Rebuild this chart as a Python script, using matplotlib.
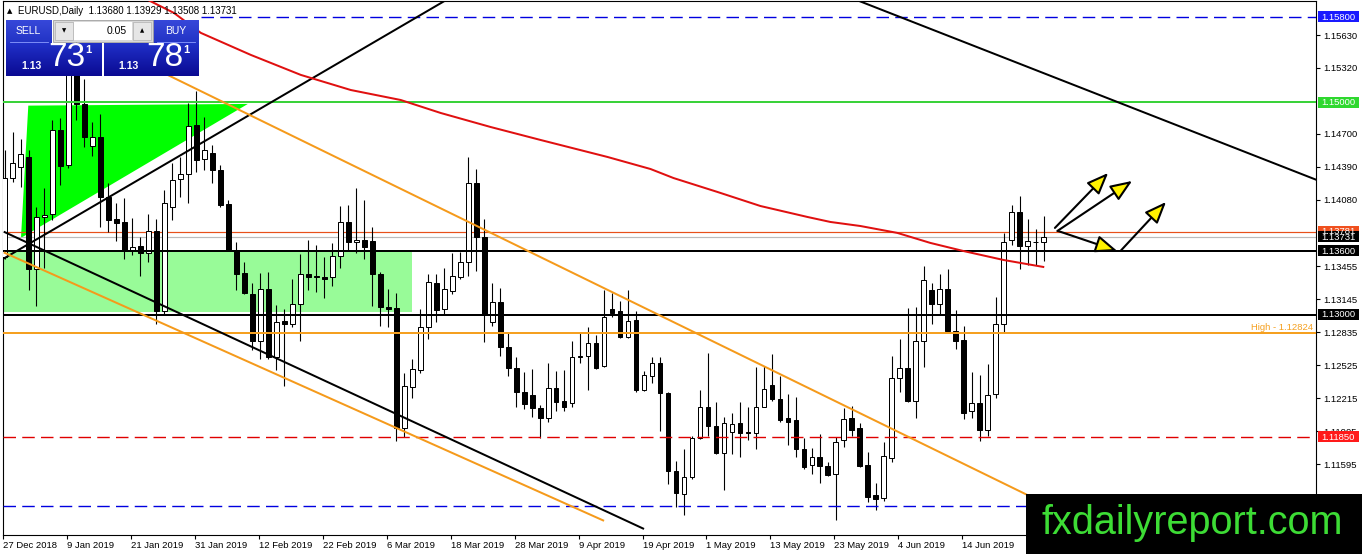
import numpy as np
import matplotlib
matplotlib.use("Agg")
import matplotlib.pyplot as plt
from matplotlib.patches import Rectangle, Polygon
from matplotlib.colors import LinearSegmentedColormap

plt.rcParams['font.family'] = ['Liberation Sans', 'DejaVu Sans']

# ---------------- data ----------------
header_text = "EURUSD,Daily  1.13680 1.13929 1.13508 1.13731"

date_labels = ["27 Dec 2018", "9 Jan 2019", "21 Jan 2019", "31 Jan 2019", "12 Feb 2019",
               "22 Feb 2019", "6 Mar 2019", "18 Mar 2019", "28 Mar 2019", "9 Apr 2019",
               "19 Apr 2019", "1 May 2019", "13 May 2019", "23 May 2019", "4 Jun 2019",
               "14 Jun 2019"]
date_label_bars = [0, 8, 16, 24, 32, 40, 48, 56, 64, 72, 80, 88, 96, 104, 112, 120]

opens = [1.1354, 1.1429, 1.1439, 1.1448, 1.1343, 1.1392, 1.1395, 1.1474, 1.1441, 1.1540,
         1.1498, 1.1459, 1.1467, 1.1411, 1.1390, 1.1387, 1.1361, 1.1365, 1.1358, 1.1379,
         1.1303, 1.1401, 1.1428, 1.1432, 1.1478, 1.1446, 1.1452, 1.1436, 1.1404, 1.1361,
         1.1339, 1.1319, 1.1275, 1.1324, 1.1260, 1.1294, 1.1291, 1.1310, 1.1338, 1.1336,
         1.1335, 1.1335, 1.1355, 1.1387, 1.1368, 1.1370, 1.1369, 1.1338, 1.1307, 1.1306,
         1.1193, 1.1232, 1.1248, 1.1288, 1.1330, 1.1305, 1.1322, 1.1335, 1.1350, 1.1424,
         1.1373, 1.1293, 1.1312, 1.1270, 1.1250, 1.1227, 1.1224, 1.1212, 1.1203, 1.1231,
         1.1219, 1.1217, 1.1260, 1.1261, 1.1273, 1.1252, 1.1305, 1.1303, 1.1279, 1.1295,
         1.1229, 1.1242, 1.1255, 1.1226, 1.1153, 1.1131, 1.1147, 1.1184, 1.1213, 1.1195,
         1.1170, 1.1190, 1.1198, 1.1190, 1.1189, 1.1213, 1.1234, 1.1221, 1.1203, 1.1201,
         1.1174, 1.1159, 1.1166, 1.1158, 1.1150, 1.1182, 1.1203, 1.1193, 1.1159, 1.1130,
         1.1128, 1.1165, 1.1240, 1.1250, 1.1219, 1.1275, 1.1323, 1.1310, 1.1324, 1.1285,
         1.1276, 1.1209, 1.1217, 1.1192, 1.1225, 1.1291, 1.1370, 1.1397, 1.1365, 1.1368,
         1.13680]
highs = [1.1455, 1.1472, 1.1465, 1.1455, 1.1401, 1.1419, 1.1483, 1.1485, 1.1548, 1.1570,
         1.1522, 1.1481, 1.1489, 1.1424, 1.1405, 1.1410, 1.1391, 1.1373, 1.1395, 1.1390,
         1.1417, 1.1443, 1.1448, 1.1499, 1.1510, 1.1486, 1.1460, 1.1441, 1.1408, 1.1368,
         1.1350, 1.1330, 1.1339, 1.1340, 1.1309, 1.1305, 1.1334, 1.1357, 1.1370, 1.1366,
         1.1354, 1.1367, 1.1402, 1.1403, 1.1419, 1.1408, 1.1382, 1.1340, 1.1324, 1.1320,
         1.1245, 1.1258, 1.1305, 1.1338, 1.1338, 1.1344, 1.1358, 1.1359, 1.1448, 1.1437,
         1.1390, 1.1330, 1.1325, 1.1284, 1.1260, 1.1246, 1.1249, 1.1215, 1.1255, 1.1247,
         1.1248, 1.1275, 1.1283, 1.1288, 1.1281, 1.1323, 1.1320, 1.1313, 1.1323, 1.1303,
         1.1247, 1.1260, 1.1260, 1.1227, 1.1162, 1.1174, 1.1186, 1.1229, 1.1264, 1.1218,
         1.1204, 1.1208, 1.1218, 1.1213, 1.1251, 1.1252, 1.1263, 1.1242, 1.1225, 1.1223,
         1.1184, 1.1175, 1.1188, 1.1161, 1.1185, 1.1212, 1.1214, 1.1198, 1.1171, 1.1142,
         1.1180, 1.1261, 1.1277, 1.1306, 1.1307, 1.1346, 1.1330, 1.1338, 1.1343, 1.1304,
         1.1289, 1.1246, 1.1243, 1.1254, 1.1317, 1.1377, 1.1403, 1.1412, 1.1390, 1.1381,
         1.13929]
lows = [1.1352, 1.1425, 1.1420, 1.1323, 1.1308, 1.1344, 1.1389, 1.1422, 1.1438, 1.1483,
        1.1458, 1.1449, 1.1382, 1.1378, 1.1369, 1.1352, 1.1356, 1.1336, 1.1350, 1.1291,
        1.1301, 1.1389, 1.1411, 1.1405, 1.1434, 1.1436, 1.1424, 1.1401, 1.1360, 1.1323,
        1.1319, 1.1267, 1.1258, 1.1258, 1.1248, 1.1233, 1.1288, 1.1275, 1.1323, 1.1321,
        1.1316, 1.1327, 1.1344, 1.1361, 1.1358, 1.1352, 1.1308, 1.1289, 1.1288, 1.1181,
        1.1185, 1.1222, 1.1245, 1.1277, 1.1293, 1.1301, 1.1319, 1.1334, 1.1336, 1.1341,
        1.1274, 1.1289, 1.1261, 1.1242, 1.1213, 1.1211, 1.1204, 1.1184, 1.1199, 1.1209,
        1.1209, 1.1213, 1.1255, 1.1229, 1.1249, 1.1251, 1.1298, 1.1278, 1.1278, 1.1227,
        1.1228, 1.1236, 1.1191, 1.1141, 1.1119, 1.1112, 1.1145, 1.1183, 1.1186, 1.1169,
        1.1135, 1.1169, 1.1166, 1.1182, 1.1174, 1.1213, 1.1219, 1.1199, 1.1177, 1.1166,
        1.1155, 1.1150, 1.1142, 1.1148, 1.1107, 1.1176, 1.1186, 1.1157, 1.1124, 1.1116,
        1.1125, 1.1161, 1.1227, 1.1218, 1.1203, 1.1251, 1.1291, 1.1301, 1.1284, 1.1268,
        1.1202, 1.1203, 1.1181, 1.1186, 1.1222, 1.1284, 1.1366, 1.1343, 1.1347, 1.1347,
        1.13508]
closes = [1.1429, 1.1443, 1.1451, 1.1343, 1.1392, 1.1394, 1.1474, 1.1440, 1.1540, 1.1498,
          1.1467, 1.1467, 1.1411, 1.1389, 1.1386, 1.1360, 1.1364, 1.1358, 1.1379, 1.1303,
          1.1405, 1.1427, 1.1432, 1.1477, 1.1445, 1.1455, 1.1436, 1.1403, 1.1361, 1.1338,
          1.1320, 1.1275, 1.1324, 1.1260, 1.1293, 1.1291, 1.1310, 1.1338, 1.1335, 1.1335,
          1.1334, 1.1355, 1.1387, 1.1368, 1.1370, 1.1364, 1.1338, 1.1307, 1.1305, 1.1193,
          1.1233, 1.1249, 1.1288, 1.1331, 1.1304, 1.1324, 1.1336, 1.1350, 1.1424, 1.1373,
          1.1301, 1.1312, 1.1270, 1.1250, 1.1227, 1.1216, 1.1212, 1.1203, 1.1231, 1.1218,
          1.1213, 1.1260, 1.1261, 1.1273, 1.1250, 1.1298, 1.1302, 1.1279, 1.1294, 1.1229,
          1.1243, 1.1255, 1.1226, 1.1153, 1.1132, 1.1147, 1.1184, 1.1213, 1.1195, 1.1170,
          1.1198, 1.1197, 1.1189, 1.1189, 1.1213, 1.1230, 1.1221, 1.1201, 1.1199, 1.1174,
          1.1157, 1.1166, 1.1158, 1.1149, 1.1180, 1.1202, 1.1192, 1.1158, 1.1129, 1.1127,
          1.1167, 1.1240, 1.1250, 1.1219, 1.1275, 1.1333, 1.1310, 1.1324, 1.1285, 1.1275,
          1.1208, 1.1217, 1.1192, 1.1224, 1.1291, 1.1368, 1.1397, 1.1365, 1.1369, 1.1368,
          1.13731]

# moving average
ma_bars = [17.94, 21.19, 24.56, 30.81, 37.06, 43.31, 49.56, 54.56, 60.81, 67.06, 75.44,
           80.81, 83.69, 89.19, 94.56, 100.44, 103.31, 107.06, 111.69, 115.81, 119.94,
           124.94, 129.94]
ma_values = [1.15960, 1.15838, 1.15650, 1.15443, 1.15255, 1.15113, 1.15019, 1.14897,
             1.14765, 1.14643, 1.14483, 1.14370, 1.14285, 1.14154, 1.14022, 1.13919,
             1.13872, 1.13834, 1.13769, 1.13675, 1.13599, 1.13515, 1.13449]

# visible price-axis labels (those fully hidden under coloured boxes are omitted)
y_tick_values = [1.15630, 1.15320, 1.14700, 1.14390, 1.14080, 1.13455,
                 1.13145, 1.12835, 1.12525, 1.12215, 1.11905, 1.11595]

blue_top_level = 1.15800
green_level = 1.15000
ask_level = 1.13781
bid_level = 1.13731
black_level_1 = 1.13600
black_level_2 = 1.13000
high_level = 1.12824
red_level = 1.11850
blue_low_level = 1.11200

# drawn objects: anchor points (bar index, price)
black_rising = [(-0.025, 1.13531), (54.56, 1.15929)]
black_falling = [(-0.025, 1.13778), (77.93, 1.11057)]
black_upper = [(154.56, 1.14549), (164.15, 1.14267)]
orange_upper = [(21.19, 1.15226), (127.69, 1.11314)]
orange_lower = [(-0.025, 1.13583), (71.44, 1.11181)]
triangle_pts = [(2.975, 1.14966), (30.44, 1.14982), (2.06, 1.13722)]
zone_bars = (-1.0, 50.94)
zone_prices = (1.13026, 1.13600)
arrows = [((131.4, 1.13816), (138.06, 1.14333)),
          ((131.7, 1.13787), (141.06, 1.14258)),
          ((131.8, 1.13787), (139.2, 1.13599)),
          ((139.6, 1.13599), (145.3, 1.14060))]

# ---------------- figure ----------------
W, H = 1362, 554
fig = plt.figure(figsize=(W / 100, H / 100), dpi=100)
fig.patch.set_facecolor('white')
ax = fig.add_axes([3 / W, (H - 535) / H, 1313 / W, 534 / H])
ax.set_facecolor('white')
XMIN, XMAX = -0.0625, 164.06
ax.set_xlim(XMIN, XMAX)
ax.set_ylim(1.10928, 1.15950)

PX = 0.72  # one pixel in points

# background objects
ax.add_patch(Rectangle((zone_bars[0], zone_prices[0]), zone_bars[1] - zone_bars[0],
                       zone_prices[1] - zone_prices[0], fc='#98FB98', ec='none', zorder=1))
ax.add_patch(Polygon(triangle_pts, closed=True, fc='#00FF00', ec='none', zorder=1))

# bid / ask lines
ax.axhline(ask_level, color='#E8501A', lw=PX * 1.2, zorder=2)
ax.axhline(bid_level, color='#BBBBBB', lw=PX * 1.2, zorder=2)

# candles
o = np.array(opens); h = np.array(highs); l = np.array(lows); c = np.array(closes)
x = np.arange(len(o))
up = c >= o
ax.vlines(x, l, h, color='black', lw=PX * 1.1, zorder=3)
ax.bar(x, np.maximum(np.abs(c - o), 0.00002), bottom=np.minimum(o, c), width=0.6,
       color=np.where(up, 'white', 'black'), edgecolor='black', linewidth=PX, zorder=3.2)

# horizontal levels
dash = (0, (9, 4.5))
ax.hlines(blue_top_level, 24.6, XMAX, color='#0000E0', lw=1.0, linestyles=[dash], zorder=4)
ax.axhline(green_level, color='#3AD23A', lw=2 * PX, zorder=4)
ax.axhline(black_level_1, color='black', lw=2 * PX, zorder=4)
ax.axhline(black_level_2, color='black', lw=2 * PX, zorder=4)
ax.axhline(high_level, color='#F5A020', lw=2 * PX, zorder=4)
ax.axhline(red_level, color='#E00000', lw=1.0, linestyle=dash, zorder=4)
ax.axhline(blue_low_level, color='#0000E0', lw=1.0, linestyle=dash, zorder=4)


def trend(anchors, k0, k1, color):
    (xa, pa), (xb, pb) = anchors
    s = (pb - pa) / (xb - xa)
    ks = np.array([k0, k1])
    ax.plot(ks, pa + s * (ks - xa), color=color, lw=2 * PX, zorder=4,
            solid_capstyle='butt')


trend(black_rising, -0.1, 60, 'black')
trend(black_falling, -0.1, 80, 'black')
trend(black_upper, 100, 166, 'black')
trend(orange_upper, 17, 128, '#F59A1B')
trend(orange_lower, -0.1, 75, '#F59A1B')

# moving average
ax.plot(ma_bars, ma_values, color='#E01010', lw=2 * PX, zorder=4.5)

# arrows
for tail, tip in arrows:
    ax.annotate('', xy=tip, xytext=tail, zorder=5,
                arrowprops=dict(arrowstyle='-|>,head_length=0.95,head_width=0.38',
                                facecolor='#FFF200', edgecolor='black', lw=1.5,
                                mutation_scale=14, shrinkA=0, shrinkB=0))

# axes styling
for sp in ax.spines.values():
    sp.set_color('black'); sp.set_linewidth(0.8)
ax.yaxis.tick_right()
ax.set_yticks(y_tick_values)
ax.set_yticklabels([f"{v:.5f}" for v in y_tick_values], fontsize=6.8)
ax.tick_params(axis='y', direction='out', length=3, width=0.8, pad=2)
ax.set_xticks(np.array(date_label_bars) - 0.19)
ax.set_xticklabels(date_labels, fontsize=6.8)
for lbl in ax.get_xticklabels():
    lbl.set_ha('left')
ax.tick_params(axis='x', direction='out', length=3, width=0.8, pad=1.5)

# ---------------- overlay (pixel coordinates) ----------------
ov = fig.add_axes([0, 0, 1, 1])
ov.patch.set_alpha(0)


def py(p):
    return H - ax.transData.transform((0, p))[1]


price_boxes = [(blue_top_level, '#1A1AFF', 'white'),
               (green_level, '#2ED82E', 'white'),
               (ask_level, '#F0501E', 'white'),
               (bid_level, 'black', 'white'),
               (black_level_1, 'black', 'white'),
               (black_level_2, 'black', 'white'),
               (red_level, '#FF1A1A', 'white')]
for p, bg, fg in price_boxes:
    yy = py(p)
    ov.add_patch(Rectangle((1317.5, yy - 5.5), 41.5, 11, fc=bg, ec='none', zorder=6))
    ov.text(1321.5, yy + 0.3, f"{p:.5f}", color=fg, fontsize=6.8, ha='left', va='center',
            zorder=7)

ov.text(1313, py(high_level) - 1.5, f"High - {high_level:.5f}", color='#F5A020',
        fontsize=6.8, ha='right', va='bottom', zorder=7)

# header
ov.text(10, 11, '\u25B2', fontsize=5, ha='center', va='center', color='black',
        family=['DejaVu Sans'], zorder=8)
ov.text(18, 11, header_text, fontsize=7, ha='left', va='center', color='black', zorder=8)

# one-click trading panel
def grad_box(x0, y0, w, hgt, ctop, cbot):
    cmap = LinearSegmentedColormap.from_list('g', [ctop, cbot])
    ov.imshow(np.linspace(0, 1, 64)[:, None], extent=(x0, x0 + w, y0 + hgt, y0),
              cmap=cmap, aspect='auto', zorder=8, interpolation='bilinear')

grad_box(6, 20, 46, 23, '#3748DA', '#2233C4')
grad_box(153, 20, 46, 23, '#3748DA', '#2233C4')
grad_box(6, 43, 96, 33, '#2030C8', '#0A0A92')
grad_box(104, 43, 95, 33, '#2030C8', '#0A0A92')
ov.add_patch(Rectangle((53, 20), 100, 22, fc='#D8D8D8', ec='#A0A0A0', lw=0.6, zorder=8))
ov.add_patch(Rectangle((74, 22), 58, 18, fc='white', ec='none', zorder=8.5))
ov.add_patch(Rectangle((55, 22), 18, 18, fc='#E6E6E6', ec='#B0B0B0', lw=0.5, zorder=8.5))
ov.add_patch(Rectangle((133, 22), 18, 18, fc='#E6E6E6', ec='#B0B0B0', lw=0.5, zorder=8.5))
ov.text(64, 31, '\u25BC', fontsize=4, ha='center', va='center', family=['DejaVu Sans'],
        zorder=9)
ov.text(142, 31, '\u25B2', fontsize=4, ha='center', va='center', family=['DejaVu Sans'],
        zorder=9)
ov.text(127, 31, '0.05', fontsize=7.5, ha='right', va='center', color='black', zorder=9)
ov.plot([10, 48], [41.5, 41.5], color='#8C9CFF', lw=0.6, zorder=9)
ov.plot([157, 195], [41.5, 41.5], color='#8C9CFF', lw=0.6, zorder=9)
ov.text(28, 31, 'SELL', fontsize=7.5, color='white', ha='center', va='center', zorder=9)
ov.text(176, 31, 'BUY', fontsize=7.5, color='white', ha='center', va='center', zorder=9)
ov.text(21, 66, '1.13', fontsize=7.5, color='white', weight='bold', ha='left',
        va='center', zorder=9)
ov.text(48, 58, '73', fontsize=24, color='white', ha='left', va='center', zorder=9)
ov.text(88, 50, '1', fontsize=8, color='white', weight='bold', ha='center', va='center',
        zorder=9)
ov.text(118, 66, '1.13', fontsize=7.5, color='white', weight='bold', ha='left',
        va='center', zorder=9)
ov.text(146, 58, '78', fontsize=24, color='white', ha='left', va='center', zorder=9)
ov.text(186, 50, '1', fontsize=8, color='white', weight='bold', ha='center', va='center',
        zorder=9)

# watermark box
ov.add_patch(Rectangle((1026, 494), 336, 60, fc='black', ec='none', zorder=10))
ov.text(1042, 533.5, 'fxdailyreport.com', fontsize=28.5, color='#3DDC35', ha='left',
        va='baseline', zorder=11)

ov.set_xlim(0, W)
ov.set_ylim(H, 0)
ov.axis('off')

fig.savefig('out.png', dpi=100)
